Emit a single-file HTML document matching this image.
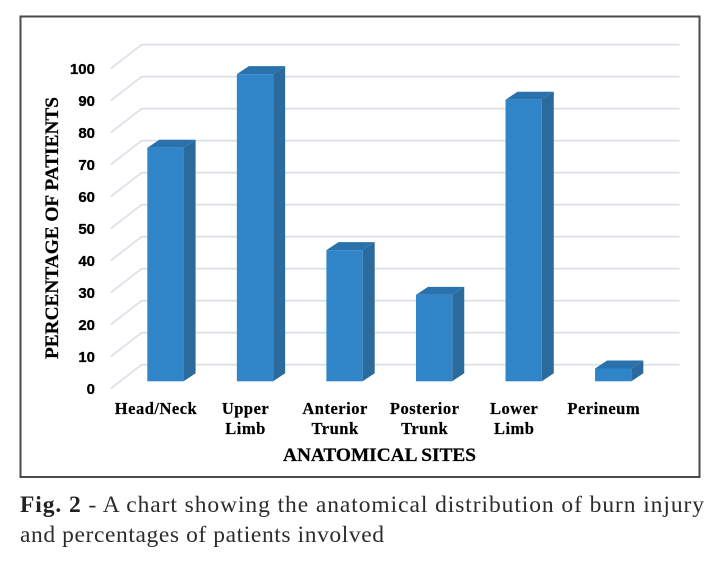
<!DOCTYPE html>
<html lang="en">
<head>
<meta charset="utf-8">
<title>Anatomical distribution of burn injury</title>
<style>
html,body{margin:0;padding:0;background:#fff;}
svg{display:block;}
text{font-family:"Liberation Serif",serif;}
.tick{font-family:"Liberation Sans",sans-serif;font-weight:700;font-size:15px;fill:#000;stroke:#000;stroke-width:.3px;text-anchor:end;}
.cat{font-weight:700;font-size:16.5px;letter-spacing:.5px;fill:#000;stroke:#000;stroke-width:.2px;text-anchor:middle;}
.axis-title{font-size:19px;font-weight:700;fill:#000;stroke:#000;stroke-width:.25px;}
.cap{font-size:23.5px;fill:#2c2c2c;}
</style>
</head>
<body>
<svg id="chart" width="727" height="568" viewBox="0 0 727 568" xmlns="http://www.w3.org/2000/svg">
  <rect x="20.5" y="16.5" width="679" height="460.5" fill="#fff" stroke="#4a4a4a" stroke-width="2"/>
  <g id="grid"></g>
  <g id="ticks"></g>
  <g id="bars"></g>
  <g id="cats"></g>
  <text class="axis-title" transform="translate(58,359) rotate(-90)" textLength="262" lengthAdjust="spacingAndGlyphs">PERCENTAGE OF PATIENTS</text>
  <text class="axis-title" x="283" y="461" textLength="193" lengthAdjust="spacingAndGlyphs">ANATOMICAL SITES</text>
  <text class="cap" x="20" y="512" textLength="684"><tspan font-weight="700" fill="#222">Fig. 2</tspan> - A chart showing the anatomical distribution of burn injury</text>
  <text class="cap" x="20" y="542" textLength="364">and percentages of patients involved</text>
</svg>
<script>
const categories = [["Head/Neck"], ["Upper", "Limb"], ["Anterior", "Trunk"], ["Posterior", "Trunk"], ["Lower", "Limb"], ["Perineum"]];
const percentages = [73, 96, 41, 27, 88, 4];
const tickLabels = [0, 10, 20, 30, 40, 50, 60, 70, 80, 90, 100];

const NS = 'http://www.w3.org/2000/svg';
const yBack = v => 364.7 - v * 3.2;
const yFront = v => 388.4 - v * 3.2;
const yBar = v => 381.3 - v * 3.2;
const xBar = i => 147.3 + i * 89.55;
const BAR_W = 36.3, DX = 12, DY = 8;

function make(tag, parent) {
  const el = document.createElementNS(NS, tag);
  parent.appendChild(el);
  return el;
}

const grid = document.getElementById('grid');
const ticks = document.getElementById('ticks');
tickLabels.forEach(t => {
  const wall = make('polyline', grid);
  
  
  wall.setAttribute('points', `111,${yFront(t)} 141.7,${yBack(t)} 679.5,${yBack(t)}`);
  wall.setAttribute('fill', 'none');
  wall.setAttribute('stroke', '#dde1e8');
  wall.setAttribute('stroke-width', '1.8');

  const label = make('text', ticks);
  
  
  label.setAttribute('class', 'tick');
  label.setAttribute('x', '95');
  label.setAttribute('y', yFront(t) + 5.6);
  label.textContent = t;
});

const bars = document.getElementById('bars');
const cats = document.getElementById('cats');
percentages.forEach((v, i) => {
  const x = xBar(i), top = yBar(v), base = yBar(0);

  const g = make('g', bars);
  
  

  const side = make('polygon', g);
  
  
  side.setAttribute('points', `${x + BAR_W},${top} ${x + BAR_W + DX},${top - DY} ${x + BAR_W + DX},${base - DY} ${x + BAR_W},${base}`);
  side.setAttribute('fill', '#2b6a9d');

  const cap = make('polygon', g);
  
  
  cap.setAttribute('points', `${x},${top} ${x + DX},${top - DY} ${x + BAR_W + DX},${top - DY} ${x + BAR_W},${top}`);
  cap.setAttribute('fill', '#2a72ad');

  const front = make('rect', g);
  
  
  front.setAttribute('x', x);
  front.setAttribute('y', top);
  front.setAttribute('width', BAR_W);
  front.setAttribute('height', base - top);
  front.setAttribute('fill', '#3085c8');

  categories[i].forEach((line, n) => {
    const label = make('text', cats);
    
    
    label.setAttribute('class', 'cat');
    label.setAttribute('x', x + 8.7);
    label.setAttribute('y', 414 + n * 20);
    label.textContent = line;
  });
});
</script>
</body>
</html>
